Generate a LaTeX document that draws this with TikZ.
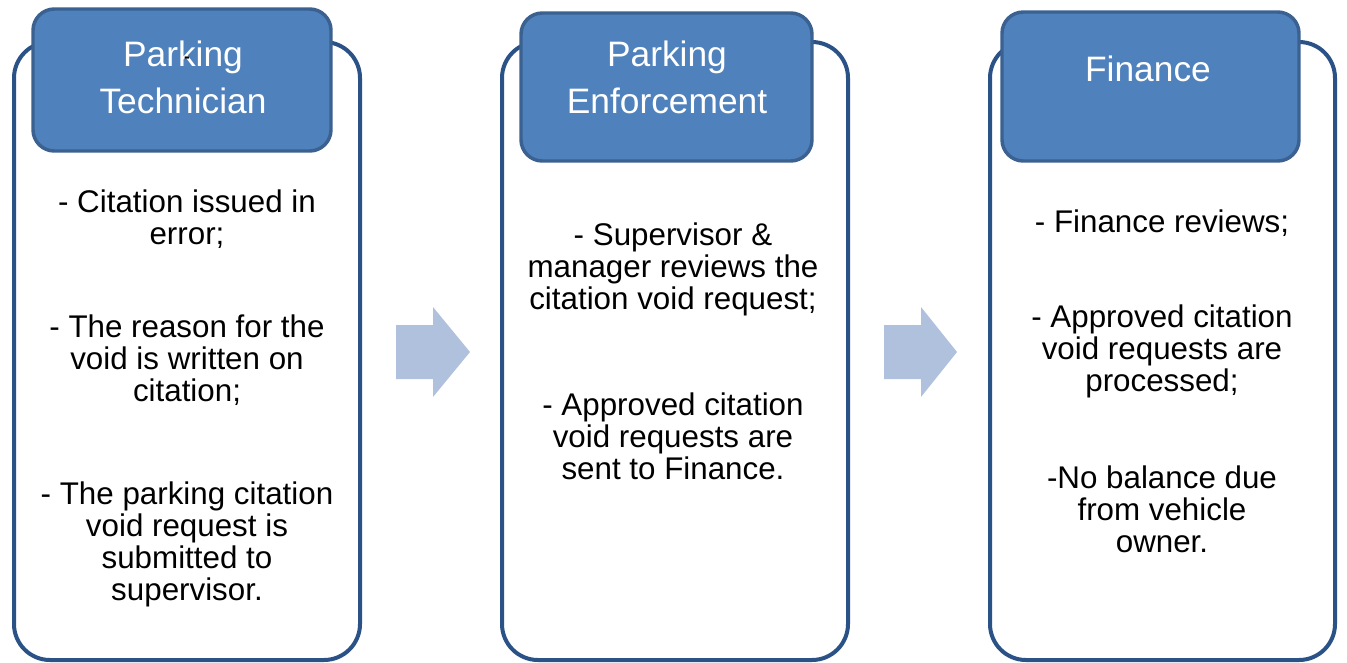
\documentclass[tikz,border=0pt]{standalone}
\usepackage{fontspec}
\setmainfont{Liberation Sans}
\definecolor{boxblue}{HTML}{2A5287}
\definecolor{headfill}{HTML}{4F81BD}
\definecolor{headline}{HTML}{3B6191}
\definecolor{arrowfill}{HTML}{B0C1DE}
\begin{document}
\begin{tikzpicture}[x=0.75pt,y=-0.75pt,
  panel/.style={draw=boxblue,line width=3pt,fill=white,rounded corners=27pt,inner sep=0pt,outer sep=0pt},
  header/.style={draw=headline,line width=2.6pt,fill=headfill,rounded corners=16pt,inner sep=0pt,outer sep=0pt},
  headtext/.style={text=white,align=center,inner sep=0pt,anchor=north,font=\fontsize{26.5}{35}\selectfont},
  bodytext/.style={text=black,align=center,inner sep=0pt,anchor=north,font=\fontsize{23.5}{24}\selectfont},
  flow/.style={fill=arrowfill,draw=none}]
\useasboundingbox (0,0) rectangle (1347,662);
% panels
\node[panel,minimum width=259.5pt,minimum height=463.5pt] (p1) at (187,351) {};
\node[panel,minimum width=259.5pt,minimum height=463.5pt] (p2) at (675,351) {};
\node[panel,minimum width=258.75pt,minimum height=463.5pt] (p3) at (1162.5,351) {};
% headers
\node[header,minimum width=223.5pt,minimum height=106.5pt] (h1) at (182,80) {};
\node[header,minimum width=218.25pt,minimum height=111pt] (h2) at (666.5,87) {};
\node[header,minimum width=222.75pt,minimum height=111.75pt] (h3) at (1150.5,86.5) {};
\node[headtext] (t1) at (183,41) {Parking\\Technician};
\node[text=black,inner sep=0pt,font=\fontsize{13}{13}\bfseries] (dash) at (187,60) {-};
\node[headtext] (t2) at (667,41) {Parking\\Enforcement};
\node[headtext] (t3) at (1148,56) {Finance};
% body texts
\node[bodytext] (a1) at (187,189.5) {- Citation issued in\\error;};
\node[bodytext] (a2) at (187,314.5) {- The reason for the\\void is written on\\citation;};
\node[bodytext] (a3) at (187,481.5) {- The parking citation\\void request is\\submitted to\\supervisor.};
\node[bodytext] (b1) at (673,222.5) {- Supervisor \&\\manager reviews the\\citation void request;};
\node[bodytext] (b2) at (673,392.5) {- Approved citation\\void requests are\\sent to Finance.};
\node[bodytext] (c1) at (1162,209.5) {- Finance reviews;};
\node[bodytext] (c2) at (1162,304.5) {- Approved citation\\void requests are\\processed;};
\node[bodytext] (c3) at (1162,465.5) {-No balance due\\from vehicle\\owner.};
% arrows
\fill[flow] (396,325) -- (433,325) -- (433,307) -- (470,352) -- (433,397) -- (433,379) -- (396,379) -- cycle;
\fill[flow] (884,325) -- (921,325) -- (921,307) -- (957,352) -- (921,397) -- (921,379) -- (884,379) -- cycle;
\end{tikzpicture}
\end{document}
